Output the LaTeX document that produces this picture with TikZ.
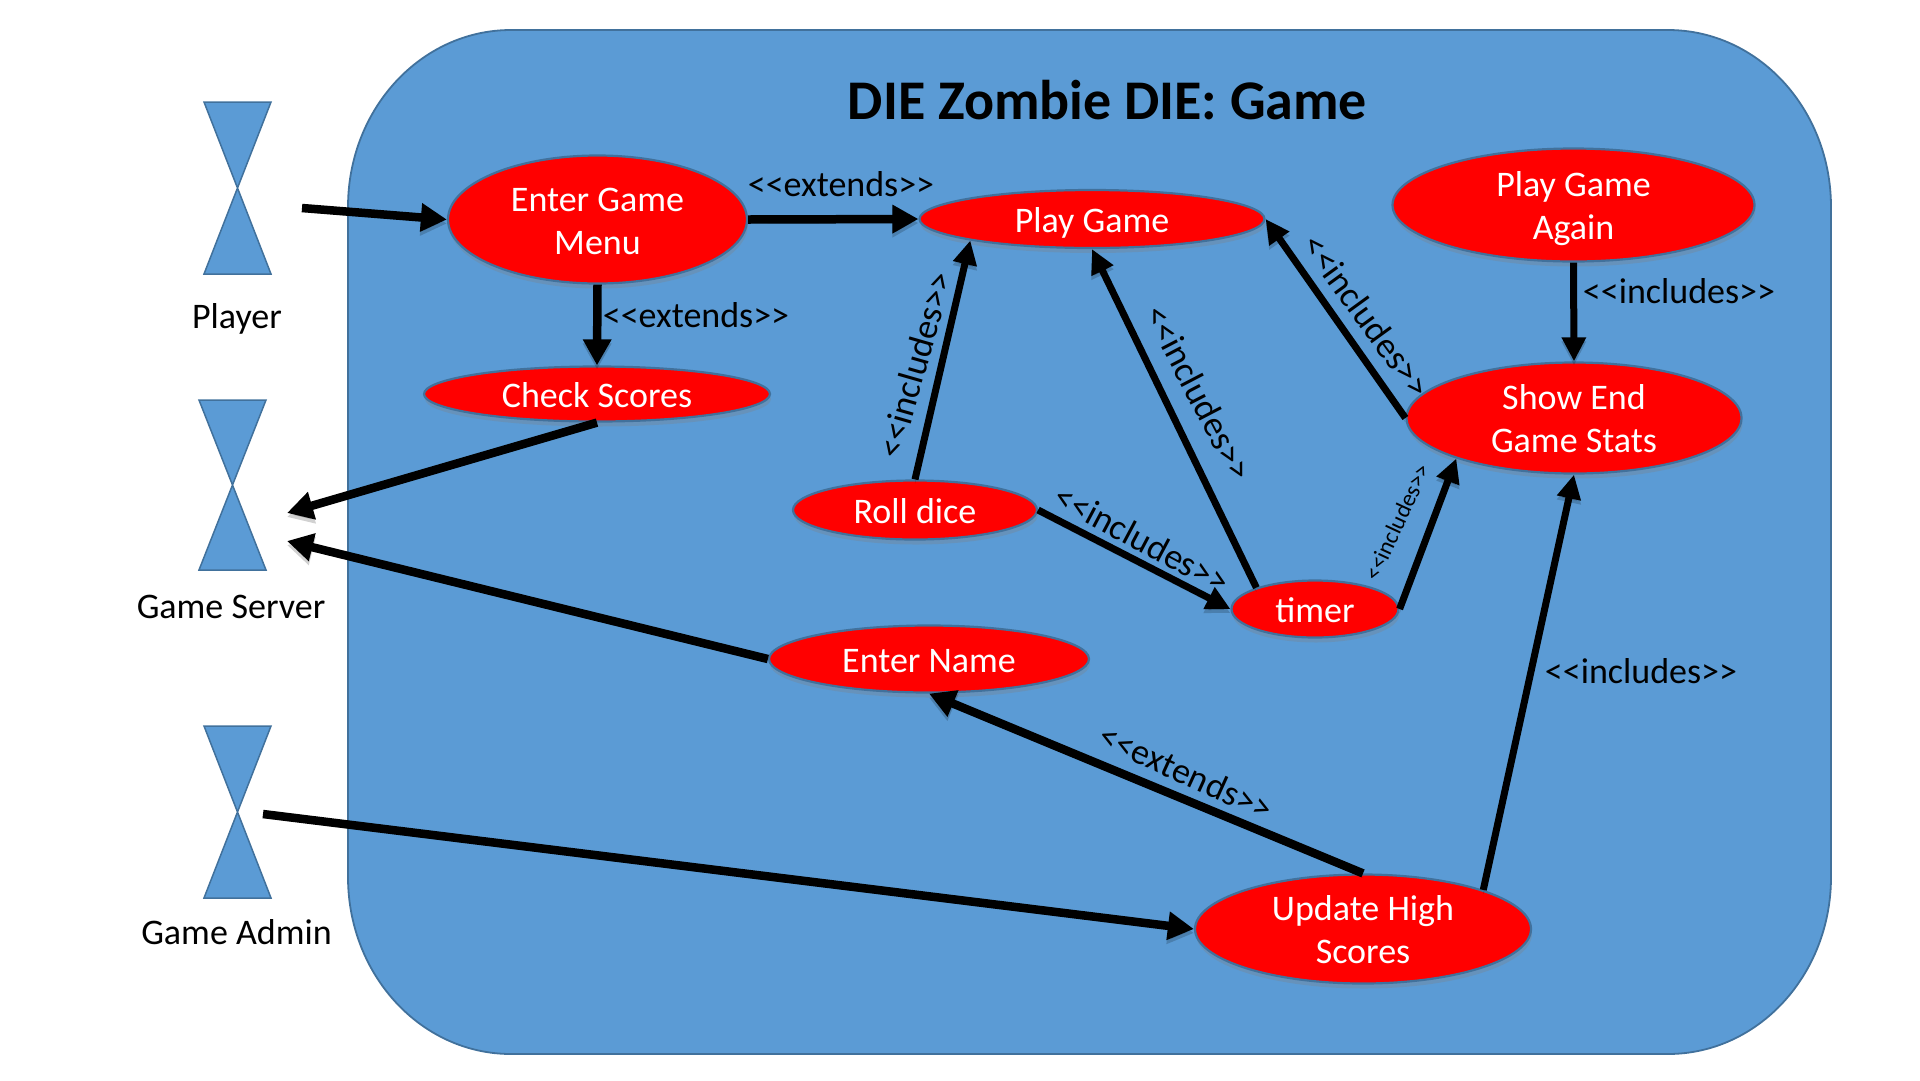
\documentclass[tikz,border=0pt]{standalone}
\usepackage{fontspec}
\setmainfont{Carlito}
\usetikzlibrary{arrows.meta,shapes.geometric,shadows}
\definecolor{panelblue}{HTML}{5B9BD5}
\definecolor{edgeblue}{HTML}{41719C}
\definecolor{usered}{HTML}{FF0000}
\newcommand{\incl}{<{}<includes>{}>}
\newcommand{\extd}{<{}<extends>{}>}
\newcommand{\uctext}[1]{\smash{\raisebox{-11pt}{\begin{tabular}[c]{@{}c@{}}#1\end{tabular}}}}
\tikzset{
  usecase/.style={ellipse,draw=edgeblue,line width=2.2pt,fill=usered,inner sep=0pt,text=white,
    font=\fontsize{36}{43}\selectfont,
    drop shadow={opacity=.3,shadow xshift=1pt,shadow yshift=-5pt}},
  conn/.style={line width=8.5pt,draw=black,-{Triangle[length=26pt,width=27pt]},
    preaction={draw=black,opacity=.18,transform canvas={yshift=-4pt}}},
  connthin/.style={conn,line width=7pt,-{Triangle[length=24pt,width=23pt]}},
  lbl/.style={font=\fontsize{36}{40}\selectfont,text=black,inner sep=0pt},
  actor/.style={fill=panelblue,draw=edgeblue,line width=1.5pt,line join=miter}
}
\begin{document}
\begin{tikzpicture}[x=1pt,y=-1pt]
\useasboundingbox (0,0) rectangle (1920,1080);
% system panel
\path[fill=panelblue,draw=edgeblue,line width=1.8pt]
  (511,30) -- (1668,30) .. controls (1758,30) and (1831,109) .. (1831,207)
  -- (1831,877) .. controls (1831,975) and (1758,1054) .. (1668,1054)
  -- (511,1054) .. controls (421,1054) and (348,975) .. (348,877)
  -- (348,207) .. controls (348,109) and (421,30) .. (511,30) -- cycle;
% actors
\path[actor] (204,102) -- (271,102) -- (204,274) -- (271,274) -- cycle;
\path[actor] (199,400) -- (266,400) -- (199,570) -- (266,570) -- cycle;
\path[actor] (204,726) -- (271,726) -- (204,898) -- (271,898) -- cycle;
\node[lbl] (lplayer) at (237,319) {Player};
\node[lbl] (lserver) at (231,607) {Game Server};
\node[lbl] (ladmin) at (236.5,932) {Game Admin};
% title
\node[font=\fontsize{56}{60}\selectfont\bfseries,text=black,inner sep=0pt] (title) at (1107.5,100) {DIE Zombie DIE: Game};
% use cases
\node[usecase,minimum width=299pt,minimum height=128pt] (menu) at (597.5,219.5) {\uctext{Enter Game\\Menu}};
\node[usecase,minimum width=346pt,minimum height=55pt] (scores) at (597,394) {\uctext{Check Scores}};
\node[usecase,minimum width=345pt,minimum height=58pt] (play) at (1092,219) {\uctext{Play Game}};
\node[usecase,minimum width=362pt,minimum height=113pt] (again) at (1573.5,205) {\uctext{Play Game\\Again}};
\node[usecase,minimum width=335pt,minimum height=111pt] (stats) at (1574,418) {\uctext{Show End\\Game Stats}};
\node[usecase,minimum width=244pt,minimum height=59pt] (dice) at (915,510) {\uctext{Roll dice}};
\node[usecase,minimum width=167pt,minimum height=57pt] (timer) at (1315,609) {\uctext{timer}};
\node[usecase,minimum width=320pt,minimum height=67pt] (name) at (929,659) {\uctext{Enter Name}};
\node[usecase,minimum width=336pt,minimum height=109pt] (update) at (1363,929) {\uctext{Update High\\Scores}};
% free ends
\coordinate (pstart) at (302,208);
\coordinate (astart) at (263,814);
\coordinate (sone) at (287,513);
\coordinate (stwo) at (287,541);
% connectors
\draw[conn] (pstart) -- (menu.west);
\draw[conn] (menu.east) -- (play.west);
\draw[conn] (menu.south) -- (scores.north);
\draw[conn] (scores.south) -- (sone);
\draw[conn] (name.west) -- (stwo);
\draw[conn] (astart) -- (update.west);
\draw[conn] (update.north) -- (name.south);
\draw[connthin] (update.18) -- (stats.south);
\draw[connthin] (stats.west) -- (play.east);
\draw[connthin] (again.south) -- (stats.north);
\draw[connthin] (dice.north) -- (play.190);
\draw[connthin] (timer.160) -- (play.south);
\draw[connthin] (dice.east) -- (timer.west);
\draw[connthin] (timer.east) -- (stats.199);
% labels
\node[lbl] (e1) at (841,184) {\extd};
\node[lbl] (e2) at (696,315) {\extd};
\node[lbl] (i1) at (1679,291) {\incl};
\node[lbl] (i2) at (1641,671) {\incl};
\node[lbl,rotate=74] (i3) at (915,365) {\incl};
\node[lbl,rotate=-62.5] (i4) at (1199,393) {\incl};
\node[lbl,rotate=-54] (i5) at (1367,316) {\incl};
\node[lbl,rotate=-28] (i6) at (1142,539) {\incl};
\node[lbl,rotate=65,font=\fontsize{23.5}{27}\selectfont] (i7) at (1397,522) {\incl};
\node[lbl,rotate=-24.5] (e3) at (1186,772) {\extd};
\end{tikzpicture}
\end{document}
